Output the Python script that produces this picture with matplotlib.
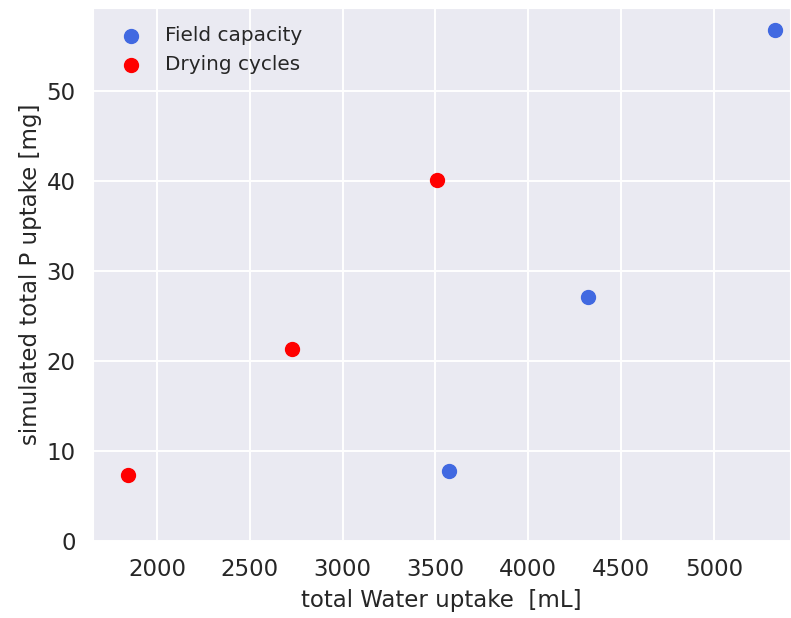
import matplotlib
matplotlib.use("Agg")
import matplotlib.pyplot as plt
import seaborn as sns

# total water uptake [mL] vs simulated total P uptake [mg]
fc_water = [3573, 4321, 5329]
fc_p = [7.8, 27.1, 56.8]
dry_water = [1844, 2727, 3508]
dry_p = [7.3, 21.3, 40.1]

sns.set_style("darkgrid")
plt.rcParams["grid.linewidth"] = 1.4

fig = plt.figure(figsize=(7.91, 6.18), dpi=100)
ax = fig.add_axes([0.1176, 0.125, 0.881, 0.862])

ax.scatter(fc_water, fc_p, s=100, color="royalblue", label="Field capacity", zorder=3)
ax.scatter(dry_water, dry_p, s=100, color="red", label="Drying cycles", zorder=3)

ax.set_xlim(1655, 5410)
ax.set_ylim(0, 59.2)
ax.set_xticks([2000, 2500, 3000, 3500, 4000, 4500, 5000])
ax.set_yticks([0, 10, 20, 30, 40, 50])
ax.tick_params(labelsize=16.5, colors="#262626", pad=9)

ax.set_xlabel("total Water uptake  [mL]", fontsize=16.5, color="#262626", labelpad=6)
ax.set_ylabel("simulated total P uptake [mg]", fontsize=16.5, color="#262626", labelpad=3)

ax.legend(loc="upper left", frameon=False, fontsize=14.4, markerscale=1.0,
          handletextpad=0.7, borderaxespad=0.5)

fig.savefig("out.png", dpi=100)
